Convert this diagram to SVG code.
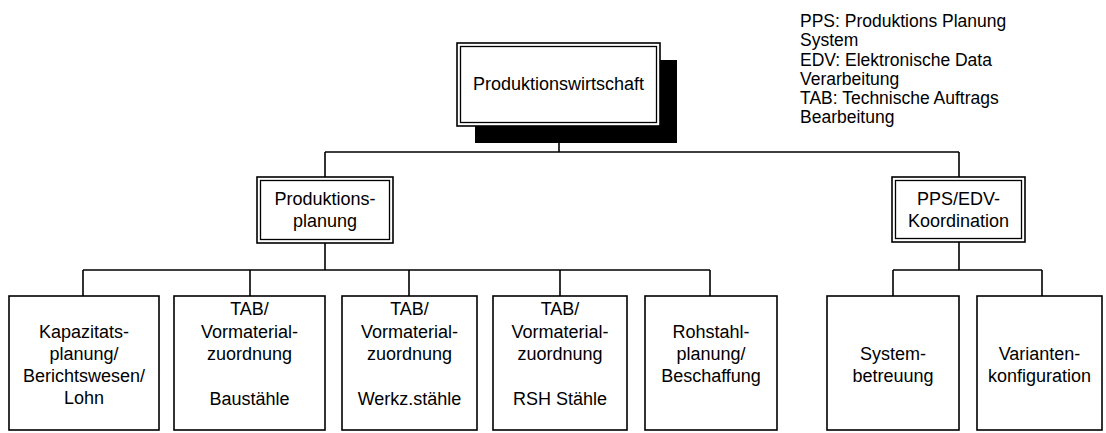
<svg xmlns="http://www.w3.org/2000/svg" width="1106" height="433" viewBox="0 0 1106 433">
<style>
  .box{fill:#fff;stroke:#000;stroke-width:1.6}
  .inner{fill:none;stroke:#000;stroke-width:1.3}
  .conn{fill:none;stroke:#000;stroke-width:1.6}
  text{font-family:"Liberation Sans",Arial,Helvetica,sans-serif;fill:#000}
  .t{font-size:18px;text-anchor:middle}
  .leg{font-size:17.5px}
</style>
<rect width="1106" height="433" fill="#fff"/>
<g id="connectors">
  <path class="conn" d="M559,126 V152 M325,152 H959 M325,152 V177 M959,152 V177"/>
  <path class="conn" d="M325,243 V270 M83,270 H710 M83,270 V296 M250,270 V296 M409,270 V296 M560,270 V296 M710,270 V296"/>
  <path class="conn" d="M959,242 V270 M893,270 H1042 M893,270 V296 M1042,270 V296"/>
</g>
<g id="produktionswirtschaft">
  <rect x="475" y="60" width="202" height="83" fill="#000"/>
  <rect class="box" x="457" y="43" width="203" height="83"/>
  <rect class="inner" x="460.5" y="46.5" width="196" height="76"/>
  <text class="t" x="558.5" y="90">Produktionswirtschaft</text>
</g>
<g id="legend">
  <text class="leg" x="800" y="27">PPS: Produktions Planung</text>
  <text class="leg" x="800" y="46">System</text>
  <text class="leg" x="800" y="66">EDV: Elektronische Data</text>
  <text class="leg" x="800" y="85">Verarbeitung</text>
  <text class="leg" x="800" y="104">TAB: Technische Auftrags</text>
  <text class="leg" x="800" y="123">Bearbeitung</text>
</g>
<g id="produktionsplanung">
  <rect class="box" x="257" y="177" width="136" height="66"/>
  <rect class="inner" x="260.5" y="180.5" width="129" height="59"/>
  <text class="t" x="325" y="205">Produktions-</text>
  <text class="t" x="325" y="227">planung</text>
</g>
<g id="pps-edv-koordination">
  <rect class="box" x="892" y="177" width="133" height="65"/>
  <rect class="inner" x="895.5" y="180.5" width="126" height="58"/>
  <text class="t" x="958.5" y="205">PPS/EDV-</text>
  <text class="t" x="958.5" y="227">Koordination</text>
</g>
<g id="kapazitaetsplanung">
  <rect class="box" x="9" y="296" width="150" height="134"/>
  <text class="t" x="84" y="338">Kapazitats-</text>
  <text class="t" x="84" y="360">planung/</text>
  <text class="t" x="84" y="382">Berichtswesen/</text>
  <text class="t" x="84" y="404">Lohn</text>
</g>
<g id="tab-baustaehle">
  <rect class="box" x="174" y="296" width="151" height="134"/>
  <text class="t" x="249.5" y="315">TAB/</text>
  <text class="t" x="249.5" y="338">Vormaterial-</text>
  <text class="t" x="249.5" y="360">zuordnung</text>
  <text class="t" x="249.5" y="405">Baustähle</text>
</g>
<g id="tab-werkzstaehle">
  <rect class="box" x="342" y="296" width="135" height="134"/>
  <text class="t" x="409.5" y="315">TAB/</text>
  <text class="t" x="409.5" y="338">Vormaterial-</text>
  <text class="t" x="409.5" y="360">zuordnung</text>
  <text class="t" x="409.5" y="405">Werkz.stähle</text>
</g>
<g id="tab-rsh-staehle">
  <rect class="box" x="493" y="296" width="134" height="134"/>
  <text class="t" x="560" y="315">TAB/</text>
  <text class="t" x="560" y="338">Vormaterial-</text>
  <text class="t" x="560" y="360">zuordnung</text>
  <text class="t" x="560" y="405">RSH Stähle</text>
</g>
<g id="rohstahlplanung">
  <rect class="box" x="645" y="296" width="132" height="134"/>
  <text class="t" x="711" y="338">Rohstahl-</text>
  <text class="t" x="711" y="360">planung/</text>
  <text class="t" x="711" y="382">Beschaffung</text>
</g>
<g id="systembetreuung">
  <rect class="box" x="827" y="296" width="132" height="134"/>
  <text class="t" x="893" y="360">System-</text>
  <text class="t" x="893" y="382">betreuung</text>
</g>
<g id="variantenkonfiguration">
  <rect class="box" x="977" y="296" width="125" height="134"/>
  <text class="t" x="1039.5" y="360">Varianten-</text>
  <text class="t" x="1039.5" y="382">konfiguration</text>
</g>
</svg>
